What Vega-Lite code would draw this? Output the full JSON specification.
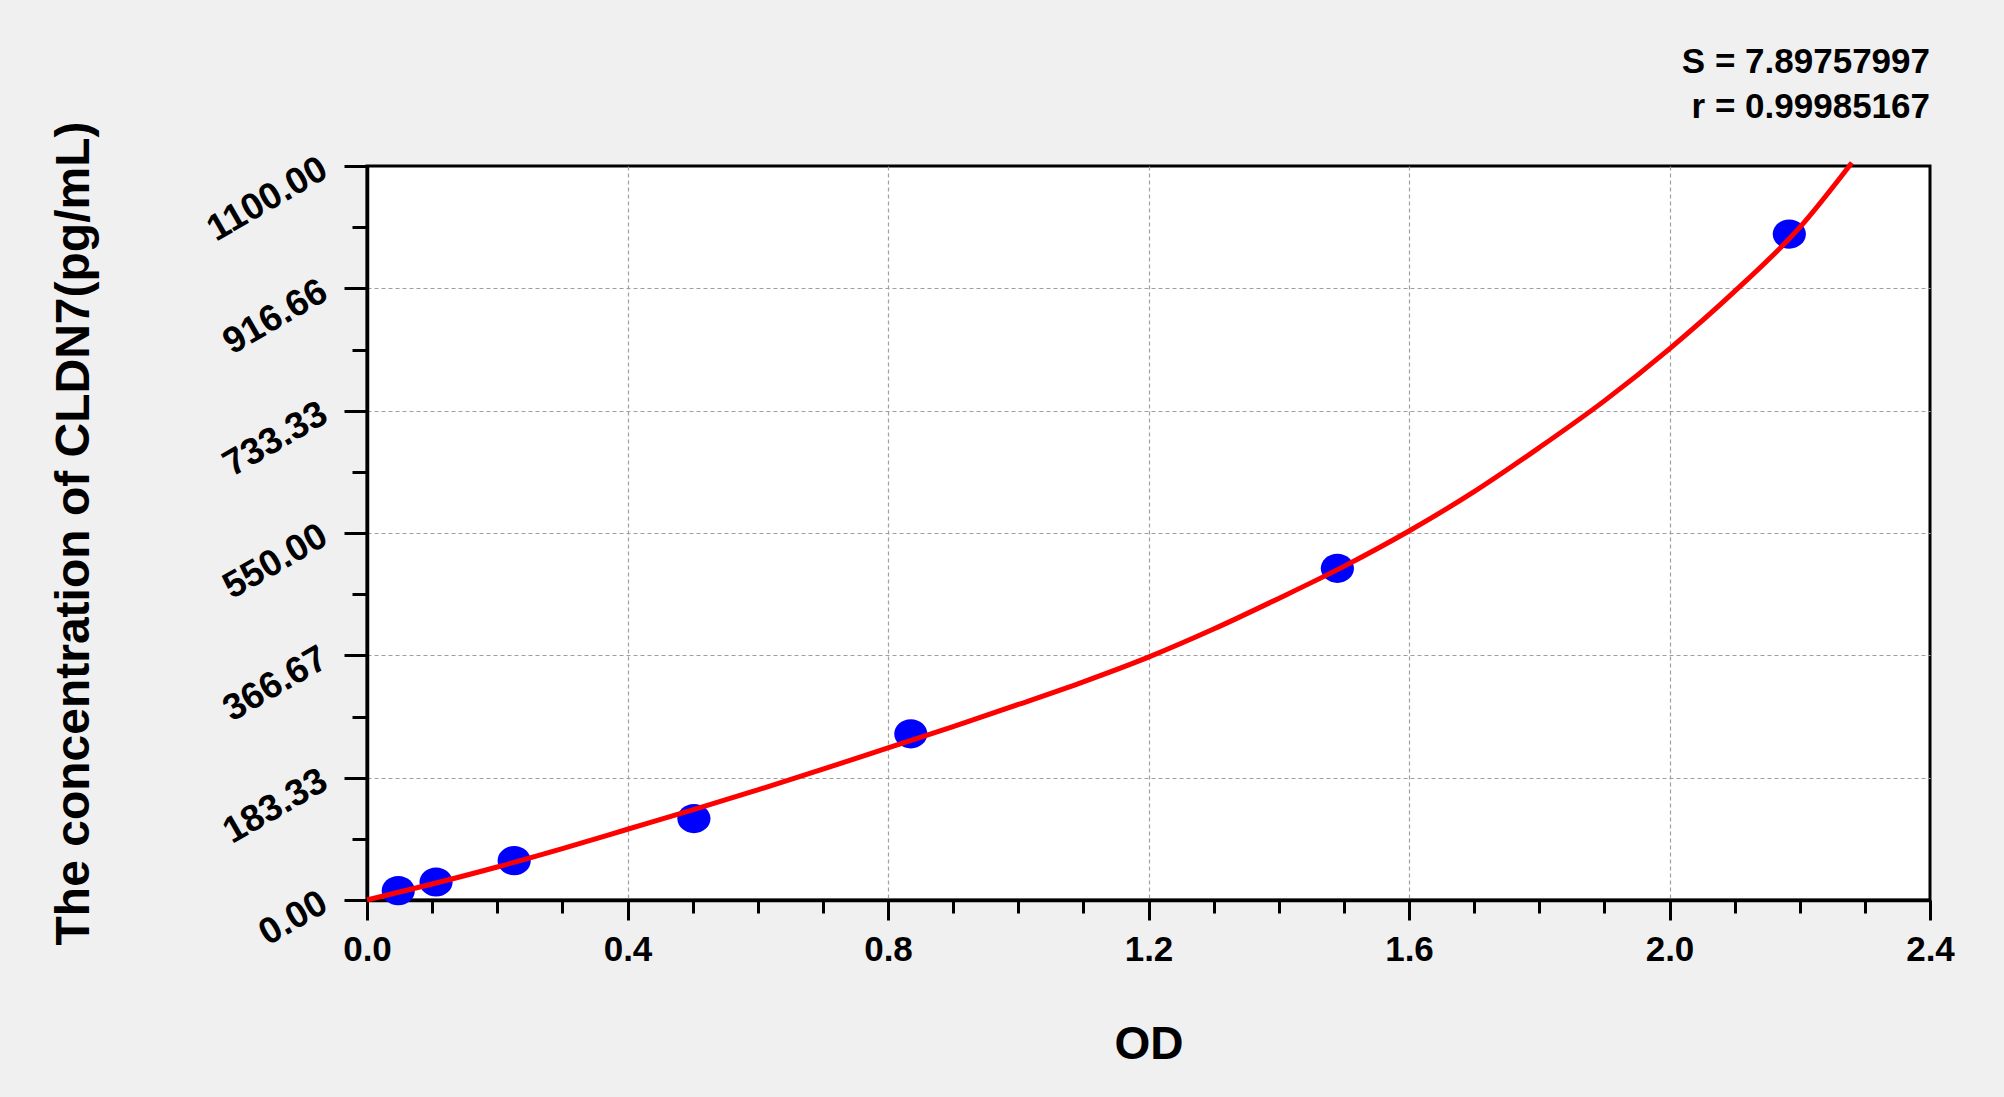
{
  "$schema": "https://vega.github.io/schema/vega-lite/v6.json",
  "autosize": {"type": "none"},
  "padding": {"left": 367, "top": 166, "right": 74, "bottom": 197},
  "width": 1563,
  "height": 734,
  "background": "#f0f0f0",
  "config": {
    "font": "Liberation Sans",
    "view": {"fill": "white", "stroke": "black", "strokeWidth": 3}
  },
  "title": {
    "text": ["S = 7.89757997", "r = 0.99985167"],
    "anchor": "end",
    "align": "right",
    "frame": "group",
    "font": "Liberation Sans",
    "fontSize": 35,
    "fontWeight": "bold",
    "color": "black",
    "lineHeight": 45,
    "offset": 40,
    "dy": 44
  },
  "datasets": {
    "points": [
      {"od": 0.048, "conc": 14},
      {"od": 0.106, "conc": 27},
      {"od": 0.226, "conc": 59},
      {"od": 0.502, "conc": 122},
      {"od": 0.835, "conc": 249},
      {"od": 1.49, "conc": 497},
      {"od": 2.184, "conc": 998}
    ],
    "curve": [
      {"od": 0, "conc": 0},
      {"od": 0.1, "conc": 24},
      {"od": 0.2, "conc": 49.5},
      {"od": 0.3, "conc": 77},
      {"od": 0.4, "conc": 106},
      {"od": 0.5, "conc": 135},
      {"od": 0.6, "conc": 165},
      {"od": 0.7, "conc": 196},
      {"od": 0.8, "conc": 228},
      {"od": 0.9, "conc": 260},
      {"od": 1.0, "conc": 293},
      {"od": 1.1, "conc": 327},
      {"od": 1.2, "conc": 364},
      {"od": 1.3, "conc": 406},
      {"od": 1.4, "conc": 452},
      {"od": 1.5, "conc": 500},
      {"od": 1.6, "conc": 553},
      {"od": 1.7, "conc": 612},
      {"od": 1.8, "conc": 678},
      {"od": 1.9, "conc": 748},
      {"od": 2.0, "conc": 826},
      {"od": 2.1, "conc": 912},
      {"od": 2.2, "conc": 1008},
      {"od": 2.28, "conc": 1105}
    ]
  },
  "layer": [
    {
      "data": {"name": "points"},
      "mark": {
        "type": "point",
        "filled": true,
        "shape": "M-1,0A1,0.88,0,1,1,1,0A1,0.88,0,1,1,-1,0Z",
        "size": 1100,
        "color": "#0000ff",
        "opacity": 1
      },
      "encoding": {
        "x": {
          "field": "od",
          "type": "quantitative",
          "scale": {"domain": [0, 2.4], "nice": false, "zero": false},
          "axis": {
            "values": [0, 0.1, 0.2, 0.3, 0.4, 0.5, 0.6, 0.7, 0.8, 0.9, 1.0, 1.1, 1.2, 1.3, 1.4, 1.5, 1.6, 1.7, 1.8, 1.9, 2.0, 2.1, 2.2, 2.3, 2.4],
            "labelExpr": "indexof([0, 0.4, 0.8, 1.2, 1.6, 2, 2.4], datum.value) >= 0 ? format(datum.value, '.1f') : ''",
            "labelFontSize": 35,
            "labelFontWeight": "bold",
            "labelColor": "black",
            "labelFlush": false,
            "labelOverlap": false,
            "labelPadding": 12,
            "tickColor": "black",
            "tickWidth": 3,
            "tickSize": {"condition": {"test": "indexof([0, 0.4, 0.8, 1.2, 1.6, 2, 2.4], datum.value) >= 0", "value": 20}, "value": 13},
            "domainColor": "black",
            "domainWidth": 3.5,
            "grid": true,
            "gridColor": "#a0a0a0",
            "gridDash": [4, 3],
            "gridWidth": 1.2,
            "gridOpacity": {"condition": {"test": "indexof([0.4, 0.8, 1.2, 1.6, 2], datum.value) >= 0", "value": 1}, "value": 0},
            "title": "OD",
            "titleFontSize": 46,
            "titleFontWeight": "bold",
            "titleColor": "black",
            "titleAlign": "center",
            "titleBaseline": "alphabetic",
            "titleX": 781.5,
            "titleY": 158
          }
        },
        "y": {
          "field": "conc",
          "type": "quantitative",
          "scale": {"domain": [0, 1100], "nice": false, "zero": false},
          "axis": {
            "values": [0, 45.83, 91.67, 137.5, 183.33, 229.17, 275, 320.83, 366.67, 412.5, 458.33, 504.17, 550, 595.83, 641.67, 687.5, 733.33, 779.17, 825, 870.83, 916.66, 962.5, 1008.33, 1054.17, 1100],
            "labelExpr": "indexof([0, 183.33, 366.67, 550, 733.33, 916.66, 1100], datum.value) >= 0 ? format(datum.value, '.2f') : ''",
            "labelFontSize": 37,
            "labelFontWeight": "bold",
            "labelColor": "black",
            "labelAngle": -30,
            "labelAlign": "right",
            "labelBaseline": "middle",
            "labelFlush": false,
            "labelOverlap": false,
            "labelPadding": 20,
            "tickColor": "black",
            "tickWidth": 3,
            "tickSize": {"condition": {"test": "indexof([0, 183.33, 366.67, 550, 733.33, 916.66, 1100], datum.value) >= 0", "value": 23}, "value": 15},
            "domainColor": "black",
            "domainWidth": 3.5,
            "grid": true,
            "gridColor": "#a0a0a0",
            "gridDash": [4, 3],
            "gridWidth": 1.2,
            "gridOpacity": {"condition": {"test": "indexof([183.33, 366.67, 550, 733.33, 916.66], datum.value) >= 0", "value": 1}, "value": 0},
            "title": "The concentration of CLDN7(pg/mL)",
            "titleFontSize": 48,
            "titleFontWeight": "bold",
            "titleColor": "black",
            "titleAngle": -90,
            "titleAlign": "center",
            "titleBaseline": "alphabetic",
            "titleX": -279,
            "titleY": 367
          }
        }
      }
    },
    {
      "data": {"name": "curve"},
      "mark": {"type": "line", "color": "#ff0000", "strokeWidth": 5, "interpolate": "monotone", "clip": false},
      "encoding": {
        "x": {"field": "od", "type": "quantitative"},
        "y": {"field": "conc", "type": "quantitative"}
      }
    }
  ]
}
